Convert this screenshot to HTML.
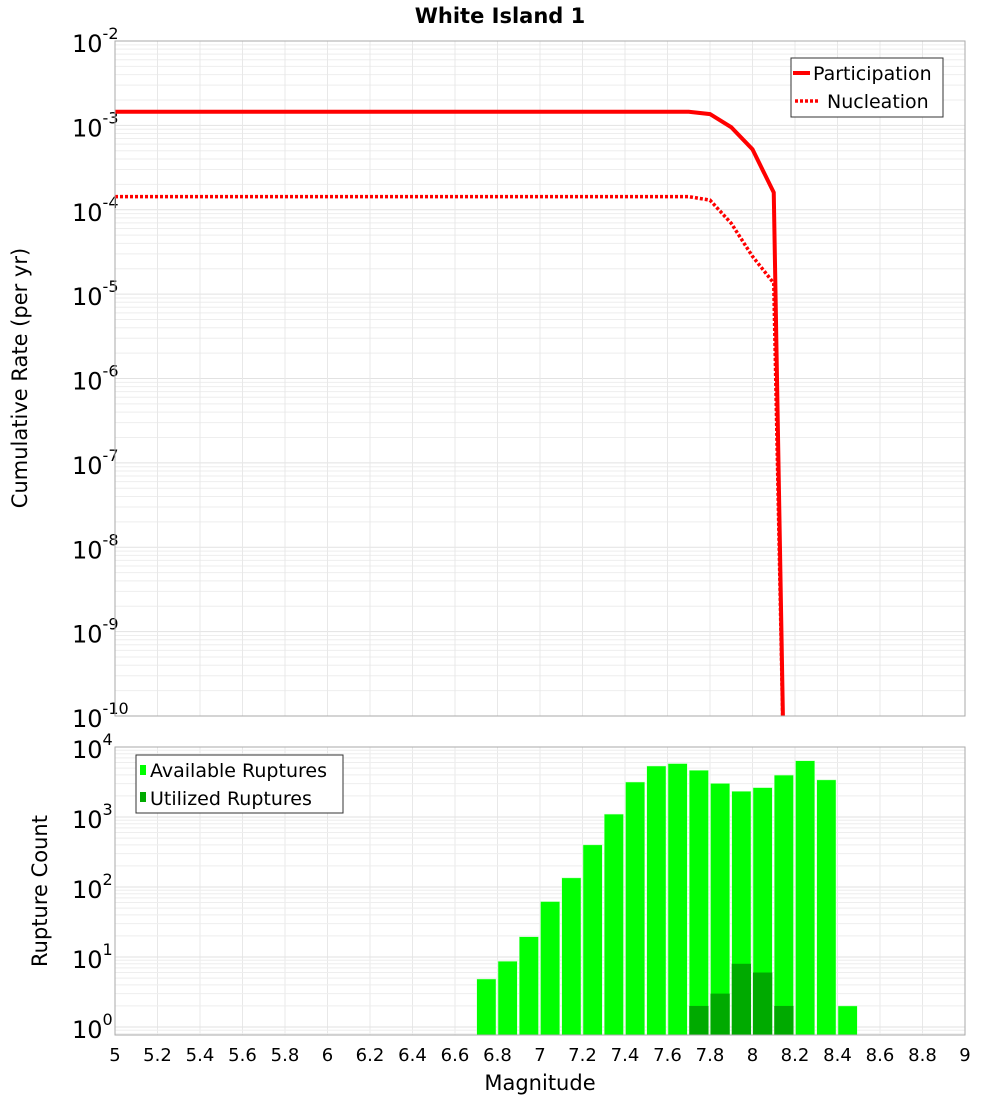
<!DOCTYPE html>
<html><head><meta charset="utf-8"><style>
body{margin:0;background:#fff;font-family:"DejaVu Sans","Liberation Sans",sans-serif}
svg text{font-family:"DejaVu Sans","Liberation Sans",sans-serif}
</style></head><body>
<svg id="c" width="1000" height="1100" xmlns="http://www.w3.org/2000/svg">
<text x="500" y="23" text-anchor="middle" font-size="21" font-weight="bold">White Island 1</text>
<g id="topPlot"></g>
<g id="botPlot"></g>
<text transform="translate(27,378) rotate(-90)" text-anchor="middle" font-size="21">Cumulative Rate (per yr)</text>
<text transform="translate(47,891) rotate(-90)" text-anchor="middle" font-size="21">Rupture Count</text>
<text x="540" y="1090" text-anchor="middle" font-size="21">Magnitude</text>
</svg>
<script>
const partMags=[5,7.7,7.8,7.9,8.0,8.1,8.15];
const partRates=[1.45e-3,1.45e-3,1.36e-3,9.5e-4,5.2e-4,1.6e-4,1e-11];
const nuclMags=[5,7.7,7.8,7.9,8.0,8.1,8.15];
const nuclRates=[1.43e-4,1.43e-4,1.3e-4,6.9e-5,2.8e-5,1.35e-5,1e-11];
const binMags=[6.7,6.8,6.9,7.0,7.1,7.2,7.3,7.4,7.5,7.6,7.7,7.8,7.9,8.0,8.1,8.2,8.3,8.4];
const availCounts=[4.85,8.7,19.5,62,135,400,1100,3160,5350,5800,4650,3020,2330,2630,3970,6360,3390,2];
const utilMags=[7.7,7.8,7.9,8.0,8.1];
const utilCounts=[2,3,8,6,2];
const xTicks=["5","5.2","5.4","5.6","5.8","6","6.2","6.4","6.6","6.8","7","7.2","7.4","7.6","7.8","8","8.2","8.4","8.6","8.8","9"];

const NS="http://www.w3.org/2000/svg";
const X0=115,X1=965;
const x=m=>X0+(m-5)/4*(X1-X0);
const T0=41,T1=716; const yT=v=>T0+(-2-Math.log10(v))/8*(T1-T0);
const B0=747,B1=1035; const yB=v=>1027-Math.log10(v)*70;
function el(p,t,a){const e=document.createElementNS(NS,t);for(const k in a)e.setAttribute(k,a[k]);p.appendChild(e);return e;}
const topG=document.getElementById('topPlot'),botG=document.getElementById('botPlot');

for(let d=-10;d<-2;d++)for(let k=1;k<10;k++){const yy=yT(k*Math.pow(10,d));const g=el(topG,'line',{x1:X0,x2:X1,y1:yy,y2:yy,stroke:k==1?'#e2e2e2':'#eeeeee','stroke-width':1});

}
for(let i=0;i<xTicks.length;i++){const xx=x(+xTicks[i]);
const g1=el(topG,'line',{x1:xx,x2:xx,y1:T0,y2:T1,stroke:'#e8e8e8'});


const g2=el(botG,'line',{x1:xx,x2:xx,y1:B0,y2:B1,stroke:'#e8e8e8'});


const t=el(botG,'text',{x:xx,y:1061,'text-anchor':'middle','font-size':18});t.textContent=xTicks[i];

}
for(let d=-1;d<4;d++)for(let k=1;k<10;k++){const yy=yB(k*Math.pow(10,d));if(yy<B0||yy>B1)continue;const g=el(botG,'line',{x1:X0,x2:X1,y1:yy,y2:yy,stroke:k==1?'#e2e2e2':'#eeeeee'});

}
function expLabel(parent,yy,d){const t=el(parent,'text',{x:72,y:yy+11,'font-size':24});
t.appendChild(document.createTextNode('10'));
const s=el(t,'tspan',{dy:-13,'font-size':16});s.textContent=String(d);

}
for(let d=-10;d<=-2;d++)expLabel(topG,yT(Math.pow(10,d)),d);
for(let d=0;d<=4;d++)expLabel(botG,yB(Math.pow(10,d)),d);

const defs=el(topG,'defs',{});const cp=el(defs,'clipPath',{id:'tc'});el(cp,'rect',{x:X0,y:T0,width:X1-X0,height:T1-T0});
const pp=el(topG,'polyline',{points:partMags.map((m,i)=>x(m)+','+yT(partRates[i])).join(' '),fill:'none',stroke:'#ff0000','stroke-width':4,'clip-path':'url(#tc)'});


const np=el(topG,'polyline',{points:nuclMags.map((m,i)=>x(m)+','+yT(nuclRates[i])).join(' '),fill:'none',stroke:'#ff0000','stroke-width':3.5,'stroke-dasharray':'3 2','clip-path':'url(#tc)'});


el(topG,'rect',{x:X0,y:T0,width:X1-X0,height:T1-T0,fill:'none',stroke:'#aaa'});
const lg=el(topG,'g',{});


el(lg,'rect',{x:791,y:58,width:152,height:59,fill:'#fff',stroke:'#333'});
el(lg,'line',{x1:793,x2:810,y1:73,y2:73,stroke:'#f00','stroke-width':4});
el(lg,'line',{x1:795,x2:820,y1:101,y2:101,stroke:'#f00','stroke-width':3.5,'stroke-dasharray':'3 2'});
let t=el(lg,'text',{x:813,y:80,'font-size':19});t.textContent='Participation';
t=el(lg,'text',{x:827,y:108,'font-size':19});t.textContent='Nucleation';

const bcp=el(defs,'clipPath',{id:'bc'});el(bcp,'rect',{x:X0,y:B0,width:X1-X0,height:B1-B0});
binMags.forEach((m,i)=>{const yy=yB(availCounts[i]);const r=el(botG,'rect',{x:x(m)+0.5,y:yy,width:x(m+0.1)-x(m)-2,height:B1-yy,fill:'#00ff00',stroke:'#ccffcc','stroke-width':0.5,'clip-path':'url(#bc)'});

});
utilMags.forEach((m,i)=>{const yy=yB(utilCounts[i]);const r=el(botG,'rect',{x:x(m)+0.5,y:yy,width:x(m+0.1)-x(m)-2,height:B1-yy,fill:'#00aa00','clip-path':'url(#bc)'});

});
el(botG,'rect',{x:X0,y:B0,width:X1-X0,height:B1-B0,fill:'none',stroke:'#aaa'});
const lb=el(botG,'g',{});


el(lb,'rect',{x:136,y:755,width:207,height:58,fill:'#fff',stroke:'#333'});
el(lb,'rect',{x:140,y:765,width:6,height:10,fill:'#00ff00'});
el(lb,'rect',{x:140,y:792,width:6,height:10,fill:'#00aa00'});
t=el(lb,'text',{x:150,y:777,'font-size':19});t.textContent='Available Ruptures';
t=el(lb,'text',{x:150,y:805,'font-size':19});t.textContent='Utilized Ruptures';
</script>
</body></html>
